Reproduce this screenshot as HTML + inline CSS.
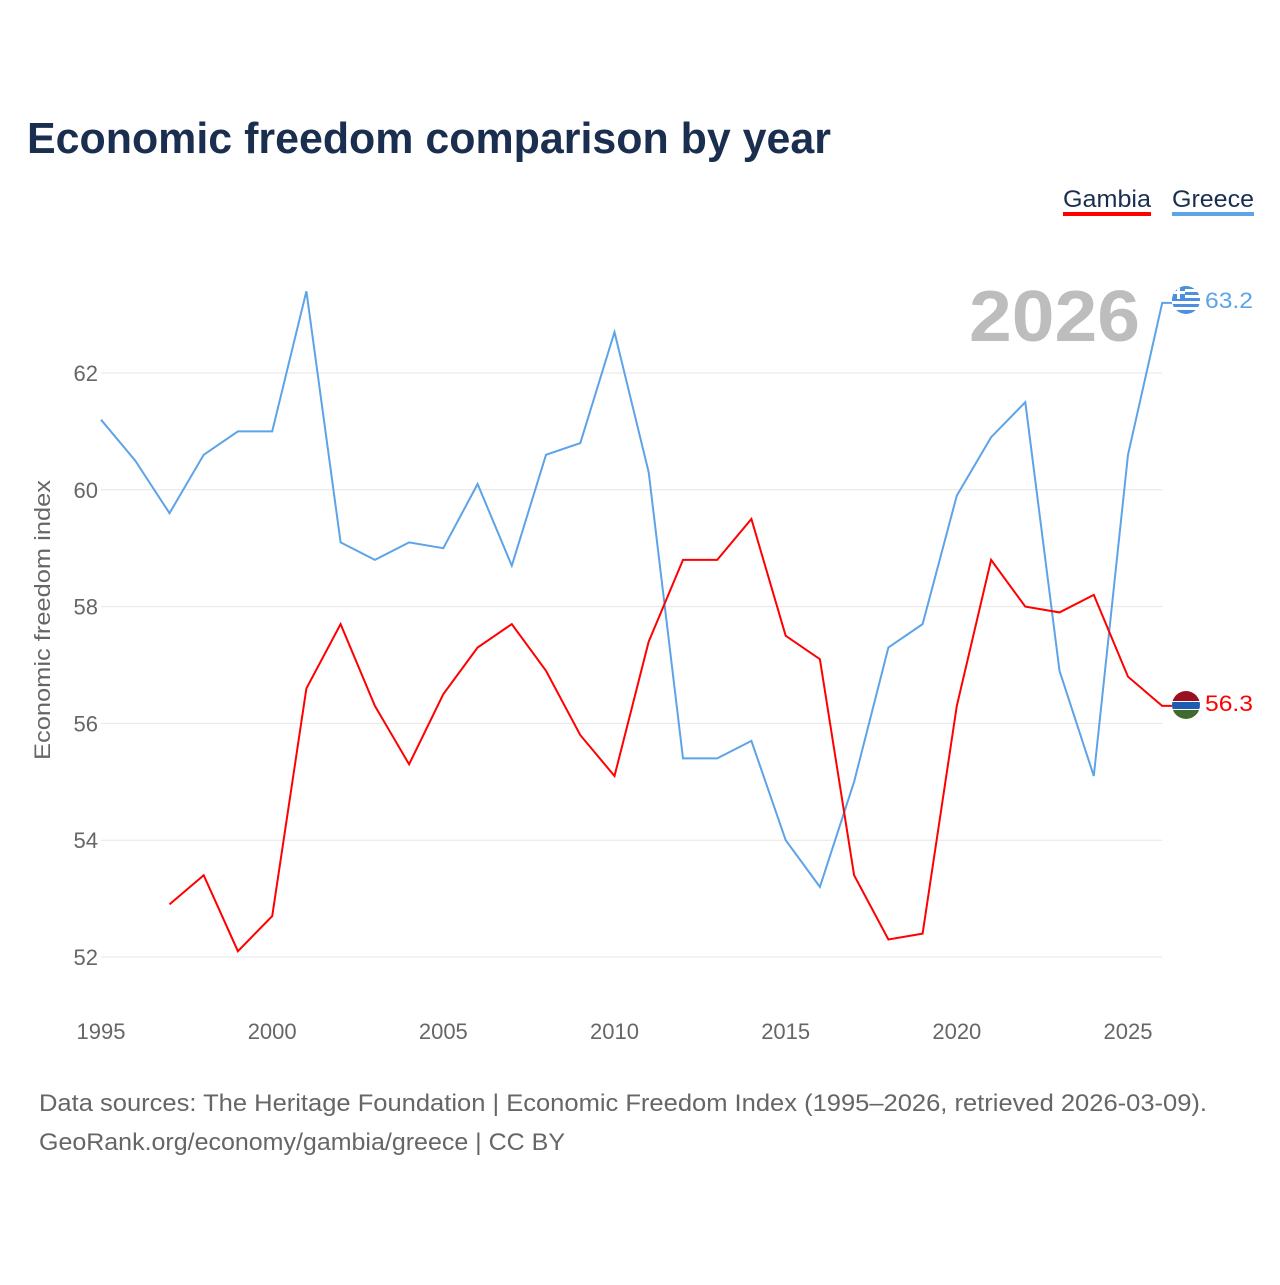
<!DOCTYPE html>
<html><head><meta charset="utf-8">
<style>
body{margin:0;background:#fff;font-family:"Liberation Sans",sans-serif}
svg text{font-family:"Liberation Sans",sans-serif}
</style></head>
<body>
<svg width="1280" height="1280" id="chart">
<text x="27" y="153" font-size="44" font-weight="bold" fill="#1a2e4f" textLength="804" lengthAdjust="spacingAndGlyphs">Economic freedom comparison by year</text>
<g>
<text x="1063" y="207" font-size="24" fill="#1a2e4f" textLength="88" lengthAdjust="spacingAndGlyphs">Gambia</text>
<rect x="1063" y="212" width="88" height="4" fill="#ff0000"/>
<text x="1172" y="207" font-size="24" fill="#1a2e4f" textLength="82" lengthAdjust="spacingAndGlyphs">Greece</text>
<rect x="1172" y="212" width="82" height="4" fill="#5ca3e8"/>
</g>
<text x="969" y="341" font-size="72" font-weight="bold" fill="#bdbdbd" textLength="171" lengthAdjust="spacingAndGlyphs">2026</text>
<g id="grid"></g>
<g id="xticks"></g>
<text transform="translate(50,620) rotate(-90)" font-size="22" fill="#666" text-anchor="middle" textLength="280" lengthAdjust="spacingAndGlyphs">Economic freedom index</text>
<g id="lines"></g>
<g>
<clipPath id="cg"><circle cx="1186" cy="300" r="14"/></clipPath>
<g clip-path="url(#cg)"><rect x="1172" y="286" width="28" height="28" fill="#fff"/>
<rect x="1172" y="286" width="28" height="3" fill="#4c8fe0"/><rect x="1172" y="292" width="28" height="3" fill="#4c8fe0"/><rect x="1172" y="298" width="28" height="3" fill="#4c8fe0"/><rect x="1172" y="304" width="28" height="3" fill="#4c8fe0"/><rect x="1172" y="310" width="28" height="4" fill="#4c8fe0"/>
<rect x="1172" y="286" width="13" height="13" fill="#4c8fe0"/><rect x="1177" y="286" width="3" height="13" fill="#fff"/><rect x="1172" y="291" width="13" height="3" fill="#fff"/></g>
</g>
<g>
<clipPath id="cm"><circle cx="1186" cy="705" r="14"/></clipPath>
<g clip-path="url(#cm)"><rect x="1172" y="691" width="28" height="10" fill="#9b1020"/><rect x="1172" y="701" width="28" height="9" fill="#fff"/><rect x="1172" y="702" width="28" height="7" fill="#1d5cb0"/><rect x="1172" y="710" width="28" height="10" fill="#3f6b2f"/></g>
</g>
<text x="1205" y="308" font-size="22" fill="#5ca3e8" textLength="48" lengthAdjust="spacingAndGlyphs">63.2</text>
<text x="1205" y="711" font-size="22" fill="#ff0000" textLength="48" lengthAdjust="spacingAndGlyphs">56.3</text>
<text x="39" y="1111" font-size="24" fill="#666" textLength="1168" lengthAdjust="spacingAndGlyphs">Data sources: The Heritage Foundation | Economic Freedom Index (1995–2026, retrieved 2026-03-09).</text>
<text x="39" y="1150" font-size="24" fill="#666" textLength="526" lengthAdjust="spacingAndGlyphs">GeoRank.org/economy/gambia/greece | CC BY</text>
</svg>
<script>
const years=[1995,1996,1997,1998,1999,2000,2001,2002,2003,2004,2005,2006,2007,2008,2009,2010,2011,2012,2013,2014,2015,2016,2017,2018,2019,2020,2021,2022,2023,2024,2025,2026];
const greece=[61.2,60.5,59.6,60.6,61.0,61.0,63.4,59.1,58.8,59.1,59.0,60.1,58.7,60.6,60.8,62.7,60.3,55.4,55.4,55.7,54.0,53.2,55.0,57.3,57.7,59.9,60.9,61.5,56.9,55.1,60.6,63.2];
const gambia=[null,null,52.9,53.4,52.1,52.7,56.6,57.7,56.3,55.3,56.5,57.3,57.7,56.9,55.8,55.1,57.4,58.8,58.8,59.5,57.5,57.1,53.4,52.3,52.4,56.3,58.8,58.0,57.9,58.2,56.8,56.3];
const yTicks=[52,54,56,58,60,62];
const xTicks=[1995,2000,2005,2010,2015,2020,2025];
const NS="http://www.w3.org/2000/svg";
const X=y=>101+(y-1995)*(1027/30);
const Y=v=>957-(v-52)*58.4;
const grid=document.getElementById('grid');
yTicks.forEach(t=>{
 const l=document.createElementNS(NS,'line');
 l.setAttribute('x1',101);l.setAttribute('x2',1162);l.setAttribute('y1',Y(t));l.setAttribute('y2',Y(t));
 l.setAttribute('stroke','#e6e6e6');l.setAttribute('stroke-width',1);
 
 
 grid.appendChild(l);
 const tx=document.createElementNS(NS,'text');
 tx.setAttribute('x',98);tx.setAttribute('y',Y(t)+8);tx.setAttribute('text-anchor','end');
 tx.setAttribute('font-size',22);tx.setAttribute('fill','#666');tx.textContent=t;
 
 
 grid.appendChild(tx);
});
const xg=document.getElementById('xticks');
xTicks.forEach(t=>{
 const tx=document.createElementNS(NS,'text');
 tx.setAttribute('x',X(t));tx.setAttribute('y',1039);tx.setAttribute('text-anchor','middle');
 tx.setAttribute('font-size',22);tx.setAttribute('fill','#666');tx.textContent=t;
 
 
 xg.appendChild(tx);
});
function draw(vals,color,name){
 let d='';let first=true;let last=null;
 vals.forEach((v,i)=>{if(v==null)return;d+=(first?'M':'L')+X(years[i]).toFixed(1)+','+Y(v).toFixed(1);first=false;last=v;});
 d+='L1172,'+Y(last).toFixed(1);
 const p=document.createElementNS(NS,'path');
 p.setAttribute('d',d);p.setAttribute('fill','none');p.setAttribute('stroke',color);p.setAttribute('stroke-width',2);
 
 
 document.getElementById('lines').appendChild(p);
}
draw(greece,'#5ca3e8','greece-line');
draw(gambia,'#ff0000','gambia-line');
</script>
</body></html>
